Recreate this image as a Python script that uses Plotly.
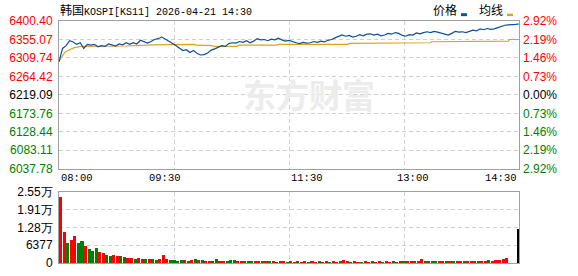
import plotly.graph_objects as go
import numpy as np

# ---------------- data ----------------
title_text = "韩国KOSPI[KS11] 2026-04-21 14:30"
prev_close = 6219.09

# price samples every 3 minutes from 08:00 (minute 0) to 14:30 (minute 390)
price = [
    6300, 6333, 6340, 6352, 6349, 6343, 6347, 6333, 6343, 6341,
    6343, 6337, 6340, 6338, 6344, 6341, 6339, 6344, 6342, 6347,
    6343, 6347, 6344, 6353, 6349, 6346, 6350, 6355, 6357, 6361,
    6356, 6352, 6346, 6340, 6333, 6328, 6330, 6323, 6328, 6321,
    6317, 6318, 6322, 6329, 6332, 6336, 6340, 6338, 6345, 6347,
    6346, 6350, 6348, 6352, 6347, 6351, 6357, 6354, 6355, 6352,
    6356, 6354, 6358, 6354, 6351, 6353, 6349, 6347, 6345, 6348,
    6346, 6347, 6350, 6348, 6351, 6349, 6353, 6355, 6359, 6362,
    6366, 6363, 6365, 6361, 6363, 6367, 6364, 6368, 6369, 6366,
    6368, 6364, 6366, 6370, 6368, 6372, 6370, 6365, 6363, 6367,
    6366, 6371, 6369, 6372, 6374, 6372, 6375, 6373, 6371, 6369,
    6366, 6370, 6375, 6373, 6374, 6372, 6375, 6378, 6376, 6381,
    6379, 6382, 6380, 6381, 6384, 6388, 6390, 6391, 6391, 6392,
    6393,
]

# average line (minute, value)
avg_min = [0, 5, 9, 13, 19, 47, 57, 80, 97, 115, 116, 130, 131, 151, 152,
           185, 186, 245, 246, 279, 280, 315, 316, 349, 350, 381, 382, 390]
avg_val = [6301, 6324, 6330, 6335, 6338, 6338, 6339, 6342, 6343, 6343, 6341,
           6340, 6338, 6338, 6341, 6341, 6343, 6343, 6345.5, 6345.5, 6347,
           6347, 6349.5, 6349.5, 6351, 6351, 6355, 6355]

# volume in 3-minute bins, plus the closing auction bar
volume = [
    23700, 11000, 7000, 8200, 9800, 7000, 8000, 6200, 5000, 4300,
    5400, 4100, 3400, 3000, 2600, 2800, 2400, 2600, 2300, 1900,
    1700, 1500, 1800, 1400, 1600, 1300, 1500, 1200, 1400, 3000,
    1300, 1100, 900, 800, 1000, 900, 800, 1000, 1300, 900,
    1100, 700, 800, 600, 1500, 800, 700, 600, 1100, 900,
    800, 600, 700, 500, 600, 800, 500, 400, 600, 400,
    500, 300, 500, 400, 300, 400, 300, 500, 300, 400,
    300, 400, 300, 400, 300, 400, 300, 400, 300, 400,
    900, 400, 300, 400, 300, 300, 400, 300, 400, 300,
    400, 300, 400, 300, 400, 300, 600, 400, 500, 400,
    700, 500, 1300, 500, 600, 400, 500, 400, 500, 400,
    500, 400, 500, 600, 400, 500, 700, 500, 800, 600,
    500, 900, 700, 1100, 900, 1300, 1700, 0, 0, 0,
    12200,
]
vol_dir = ("rrgrrggrgggrrggrrggrrgrrgrggrrrggggrgrgrgrrggrrgg"
           "grrgggrrgrgrgrrgrrgrrgrrgrrgrrgrrgrrgrrgrrgrrgrrg"
           "rrgrrgrggrrgrgrrgrrrgrrgrrrrrrr")

main_ticks = [6400.40, 6355.07, 6309.74, 6264.42, 6219.09, 6173.76, 6128.44, 6083.11, 6037.78]
pct_labels = ["2.92%", "2.19%", "1.46%", "0.73%", "0.00%", "0.73%", "1.46%", "2.19%", "2.92%"]
vol_ticks = [0, 6377, 12754, 19131, 25508]
vol_labels = ["0", "6377", "1.28万", "1.91万", "2.55万"]
time_labels = ["08:00", "09:30", "11:30", "13:00", "14:30"]
time_minutes = [0, 90, 210, 300, 390]
grid_minutes = [97.5, 195, 292.5]
total_minutes = 390

# ---------------- layout helpers ----------------
W, H = 578, 276
L, R, T, B = 59, 59, 21, 6
PW, PH = W - L - R, H - T - B


def pyp(y):
    return (H - B - y) / PH


def pxp(x):
    return (x - L) / PW


RED, GREEN, BLACK = "#ff0000", "#008000", "#000000"
BLUE, ORANGE = "#0b4f9e", "#dea21e"
GRID = "#d0d0d0"
BORDER = "#a0a0a0"
NUMFONT = "Liberation Sans, Arial, sans-serif"
MONO = "Liberation Mono, DejaVu Sans Mono, monospace"


def level_color(v):
    if v > prev_close + 0.005:
        return RED
    if v < prev_close - 0.005:
        return GREEN
    return BLACK


price_min = [3 * i for i in range(len(price))]
vol_x = [3 * i + 1.5 for i in range(len(volume) - 1)] + [total_minutes - 0.7]
vol_w = [2.6] * (len(volume) - 1) + [1.3]
vol_col = [RED if c == "r" else GREEN for c in vol_dir[:len(volume)]]

fig = go.Figure()
fig.add_trace(go.Scatter(x=avg_min, y=avg_val, mode="lines",
                         line=dict(color=ORANGE, width=1.2), hoverinfo="skip",
                         xaxis="x", yaxis="y"))
fig.add_trace(go.Scatter(x=price_min, y=price, mode="lines",
                         line=dict(color=BLUE, width=1.2), hoverinfo="skip",
                         xaxis="x", yaxis="y"))
fig.add_trace(go.Scatter(x=price_min, y=price, mode="lines", opacity=0,
                         line=dict(width=0), hoverinfo="skip",
                         xaxis="x", yaxis="y3"))
fig.add_trace(go.Bar(x=vol_x, y=volume, width=vol_w,
                     marker=dict(color=vol_col, line=dict(width=0)),
                     hoverinfo="skip", xaxis="x2", yaxis="y2"))

xcommon = dict(range=[0, total_minutes], tickvals=grid_minutes, showticklabels=False,
               showgrid=True, gridcolor=GRID, griddash="4px,3px", gridwidth=1,
               showline=True, linecolor=BORDER, linewidth=1, mirror=True,
               zeroline=False, ticks="", fixedrange=True)

main_ticktext = ['<span style="color:%s">%.2f</span>' % (level_color(v), v) for v in main_ticks]
pct_ticktext = ['<span style="color:%s">%s</span>' % (level_color(v), t)
                for v, t in zip(main_ticks, pct_labels)]

fig.update_layout(
    width=W, height=H,
    margin=dict(l=L, r=R, t=T, b=B, pad=0),
    paper_bgcolor="white", plot_bgcolor="white",
    showlegend=False,
    bargap=0,
    xaxis=dict(anchor="y", **xcommon),
    xaxis2=dict(anchor="y2", **xcommon),
    yaxis=dict(domain=[pyp(173), 1], range=[main_ticks[-1], main_ticks[0]],
               tickvals=main_ticks, ticktext=main_ticktext,
               tickfont=dict(family=NUMFONT, size=12, color=BLACK),
               showgrid=True, gridcolor=GRID, griddash="4px,3px",
               showline=True, linecolor=BORDER, linewidth=1, mirror=True,
               zeroline=False, ticks="", ticklabelstandoff=3, fixedrange=True),
    yaxis3=dict(overlaying="y", side="right", anchor="x",
                range=[main_ticks[-1], main_ticks[0]],
                tickvals=main_ticks, ticktext=pct_ticktext,
                tickfont=dict(family=NUMFONT, size=12, color=BLACK),
                showgrid=False, showline=False, zeroline=False, ticks="",
                ticklabelstandoff=3, fixedrange=True),
    yaxis2=dict(domain=[0, pyp(197)], range=[0, vol_ticks[-1]],
                tickvals=vol_ticks, ticktext=vol_labels,
                tickfont=dict(family=NUMFONT, size=12, color=BLACK),
                showgrid=True, gridcolor=GRID, griddash="4px,3px",
                showline=True, linecolor=BORDER, linewidth=1, mirror=True,
                zeroline=False, ticks="", ticklabelstandoff=3, fixedrange=True),
)

ann = []
# watermark
ann.append(dict(text="<b>东方财富</b>", xref="paper", yref="paper",
                x=pxp(309), y=pyp(96), xanchor="center", yanchor="middle",
                showarrow=False,
                font=dict(family="Noto Sans CJK SC", size=33, color="#ececec")))
# title
ann.append(dict(text=title_text[:2] + '<span style="font-family:%s;font-size:10px">%s</span>'
                % (MONO.split(",")[0], title_text[2:]),
                xref="paper", yref="paper", x=pxp(58), y=pyp(9), xanchor="left",
                yanchor="middle", showarrow=False,
                font=dict(family="Noto Sans CJK SC", size=12, color=BLACK)))
# legend
ann.append(dict(text="价格", xref="paper", yref="paper", x=pxp(431), y=pyp(9),
                xanchor="left", yanchor="middle", showarrow=False,
                font=dict(family="Noto Sans CJK SC", size=12, color=BLACK)))
ann.append(dict(text="均线", xref="paper", yref="paper", x=pxp(477), y=pyp(9),
                xanchor="left", yanchor="middle", showarrow=False,
                font=dict(family="Noto Sans CJK SC", size=12, color=BLACK)))
# time labels
for i, (lab, m) in enumerate(zip(time_labels, time_minutes)):
    anchor = "left" if i == 0 else ("right" if i == len(time_labels) - 1 else "center")
    ann.append(dict(text=lab, xref="x", yref="paper", x=m, y=pyp(183),
                    xanchor=anchor, yanchor="middle", showarrow=False,
                    font=dict(family=MONO, size=10.5, color=BLACK)))
fig.update_layout(annotations=ann)

shapes = [
    dict(type="rect", xref="paper", yref="paper", x0=pxp(461), x1=pxp(467),
         y0=pyp(16), y1=pyp(13), fillcolor=BLUE, line=dict(width=0)),
    dict(type="rect", xref="paper", yref="paper", x0=pxp(507), x1=pxp(513),
         y0=pyp(16), y1=pyp(13.5), fillcolor=ORANGE, line=dict(width=0)),
]
fig.update_layout(shapes=shapes)

fig.write_html("out.html", config={"displayModeBar": False})
